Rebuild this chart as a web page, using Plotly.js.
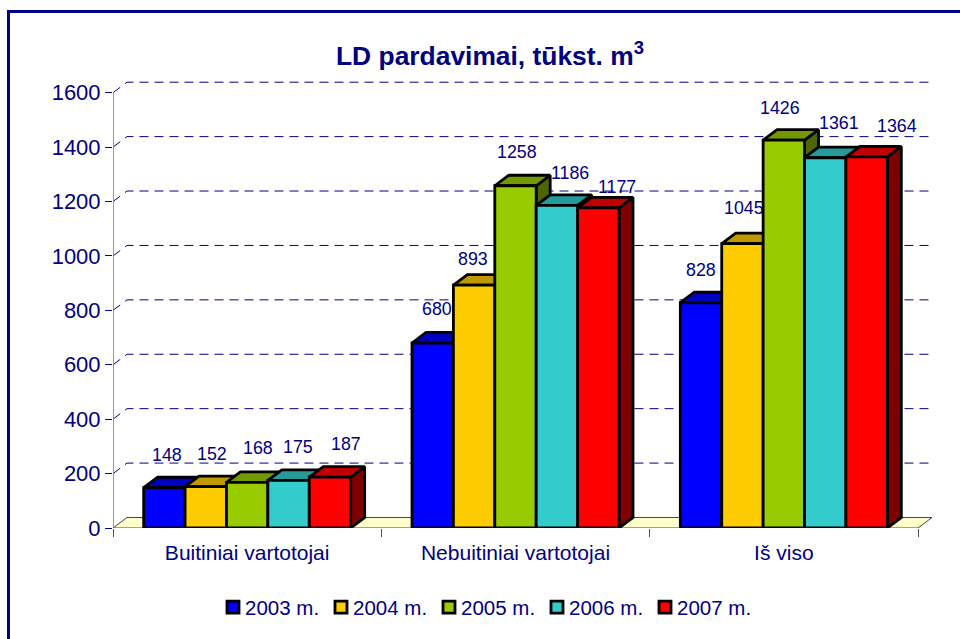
<!DOCTYPE html>
<html>
<head>
<meta charset="utf-8">
<script src="https://cdn.plot.ly/plotly-3.0.1.min.js"></script>
<style>
html,body{margin:0;padding:0;background:#fff;overflow:hidden}
#chart{position:absolute;left:0;top:0;width:960px;height:639px}
#frame{position:absolute;left:7px;top:10px;width:1000px;height:700px;border:3px solid #00008C;pointer-events:none}
.legend .legendsymbols{transform:translateX(8px)}
.legend .scrollbox{clip-path:none !important}
</style>
</head>
<body>
<div id="chart"></div>
<div id="frame"></div>
<script>
// ---- data ----
const categories = ['Buitiniai vartotojai', 'Nebuitiniai vartotojai', 'Iš viso'];
const seriesNames = ['2003 m.', '2004 m.', '2005 m.', '2006 m.', '2007 m.'];
const v2003 = [148, 680, 828];
const v2004 = [152, 893, 1045];
const v2005 = [168, 1258, 1426];
const v2006 = [175, 1186, 1361];
const v2007 = [187, 1177, 1364];
const yTicks = [0, 200, 400, 600, 800, 1000, 1200, 1400, 1600];

// ---- styles ----
const values = [v2003, v2004, v2005, v2006, v2007];
const front = ['#0000FF', '#FFCC00', '#99CC00', '#33CCCC', '#FF0000'];
const top3d = ['#0000BF', '#BF9900', '#739900', '#269999', '#BF0000'];
const side3d = ['#00007F', '#7F6600', '#4D6600', '#1A6666', '#7F0000'];
const navy = '#000080';
const FONT = '"Liberation Sans", Arial, sans-serif';
// label nudges in pixels, per series then category
const labelDx = [[2.6,4,-0.3],[6.6,-1.4,1.3],[10.8,1.2,-4],[9.4,12.8,13.5],[16.4,18.4,30]];
const labelDy = [[33,33.8,32.6],[33,25.9,35.6],[34,33.7,32.3],[33.4,32.5,34.6],[33,20.7,31.1]];

// ---- geometry, in axis units ----
const W = 960, H = 639;
const mL = 113, mR = 28, mT = 78, y0px = 527.7;
const pxPerCat = 268.33, pxPerUnit = 435 / 1600;
const depthX = 14 / pxPerCat, depthY = 10.5 / pxPerUnit;
const barW = 41.4 / pxPerCat;
const barStart = -2.5 * barW;
const xMin = -0.5, xMax = 2.5;
const yTop = (y0px - mT) / pxPerUnit;

const traces = [];
const noHover = {hoverinfo: 'skip', showlegend: false};

// floor
traces.push(Object.assign({
  type: 'scatter', mode: 'lines', fill: 'toself', fillcolor: '#FFFFCC',
  x: [xMin, xMin + depthX, xMax + depthX, xMax, xMin],
  y: [0, depthY, depthY, 0, 0],
  line: {color: '#444', width: 1}, xaxis: 'x', yaxis: 'y'
}, noHover));

// back-wall gridlines, bending to the axis
yTicks.filter(t => t > 0).forEach(t => traces.push(Object.assign({
  type: 'scatter', mode: 'lines',
  x: [xMin, xMin + depthX, xMax + depthX],
  y: [t, t + depthY, t + depthY],
  line: {color: navy, width: 1, dash: '9px,6px'}, xaxis: 'x', yaxis: 'y'
}, noHover)));

// axis lines
traces.push(Object.assign({
  type: 'scatter', mode: 'lines', x: [xMin, xMin], y: [0, yTicks[yTicks.length - 1]],
  line: {color: '#7878B8', width: 1.6}, xaxis: 'x', yaxis: 'y'
}, noHover));

// Painter's order: each series' top and side faces in one overlay, its front
// bars in the next overlay, so a later bar hides the earlier series' faces.
values.forEach((vals, s) => {
  const faceAxis = s === 0 ? 'y' : 'y' + (s + 1);
  const barAxis = 'y' + (s + 2);
  const xs = vals.map((_, c) => c + barStart + s * barW);
  const tx = [], ty = [], sx = [], sy = [];
  vals.forEach((v, c) => {
    const l = xs[c], r = l + barW;
    tx.push(l, l + depthX, r + depthX, r, l, null);
    ty.push(v, v + depthY, v + depthY, v, v, null);
    sx.push(r, r + depthX, r + depthX, r, r, null);
    sy.push(v, v + depthY, depthY, 0, v, null);
  });
  const faceLine = {color: '#000', width: 2.8};
  traces.push(Object.assign({type: 'scatter', mode: 'lines', fill: 'toself', fillcolor: side3d[s],
    x: sx, y: sy, line: faceLine, xaxis: 'x', yaxis: faceAxis}, noHover));
  traces.push(Object.assign({type: 'scatter', mode: 'lines', fill: 'toself', fillcolor: top3d[s],
    x: tx, y: ty, line: faceLine, xaxis: 'x', yaxis: faceAxis}, noHover));
  traces.push({
    type: 'bar', name: seriesNames[s], x: categories.map((_, c) => c), y: vals,
    width: barW, offset: barStart + s * barW,
    marker: {color: front[s], line: {color: '#000', width: 2.8}},
    xaxis: 'x', yaxis: barAxis
  });
});

// value labels
const annotations = [];
values.forEach((vals, s) => vals.forEach((v, c) => annotations.push({
  x: c + barStart + (s + 0.5) * barW, y: v, xref: 'x', yref: 'y',
  text: String(v), showarrow: false, xanchor: 'center', yanchor: 'middle',
  xshift: labelDx[s][c], yshift: labelDy[s][c],
  font: {family: FONT, size: 17.8, color: navy}
})));

const plotW = W - mL - mR, plotH = y0px - mT;
const layout = {
  width: W, height: H, autosize: false, showlegend: true,
  paper_bgcolor: '#fff', plot_bgcolor: 'rgba(0,0,0,0)',
  margin: {l: mL, r: mR, t: mT, b: H - y0px, pad: 0},
  font: {family: FONT, color: navy},
  title: {text: '<b>LD pardavimai, tūkst. m<sup>3</sup></b>', x: 490 / W, xanchor: 'center',
    y: 1 - 56 / H, yanchor: 'middle', font: {family: FONT, size: 26.4, color: navy}},
  barmode: 'overlay',
  xaxis: {
    range: [xMin, xMax + depthX], tickmode: 'array', tickvals: categories.map((_, c) => c), ticktext: categories,
    showgrid: false, zeroline: false, showline: false, ticks: '', ticklabelstandoff: 10,
    tickfont: {family: FONT, size: 21, color: navy},
    minor: {tickmode: 'array', tickvals: [-0.5, 0.5, 1.5, 2.5], ticks: 'outside', ticklen: 8, tickwidth: 1, tickcolor: '#555', showgrid: false}
  },
  yaxis: {
    range: [0, yTop], tickmode: 'array', tickvals: yTicks, ticks: 'outside', ticklen: 7, tickwidth: 1,
    tickcolor: navy, showgrid: false, zeroline: false, showline: false,
    tickfont: {family: FONT, size: 22, color: navy}
  },
  legend: {orientation: 'h', x: (205 - mL) / plotW, xanchor: 'left', y: -(587 - y0px) / plotH, yanchor: 'top',
    bgcolor: 'rgba(0,0,0,0)', borderwidth: 0, entrywidth: 63, entrywidthmode: 'pixels',
    font: {family: FONT, size: 20.5, color: navy}, itemclick: false, itemdoubleclick: false},
  annotations: annotations,
  shapes: [{type: 'line', xref: 'x', yref: 'y', x0: xMin, x1: xMax, y0: 0, y1: 0, layer: 'below', line: {color: '#444', width: 1.5}}]
};
for (let i = 2; i <= 6; i++) {
  layout['yaxis' + i] = {range: [0, yTop], overlaying: 'y', visible: false, fixedrange: true};
}
Plotly.newPlot('chart', traces, layout, {displayModeBar: false});
</script>
</body>
</html>
